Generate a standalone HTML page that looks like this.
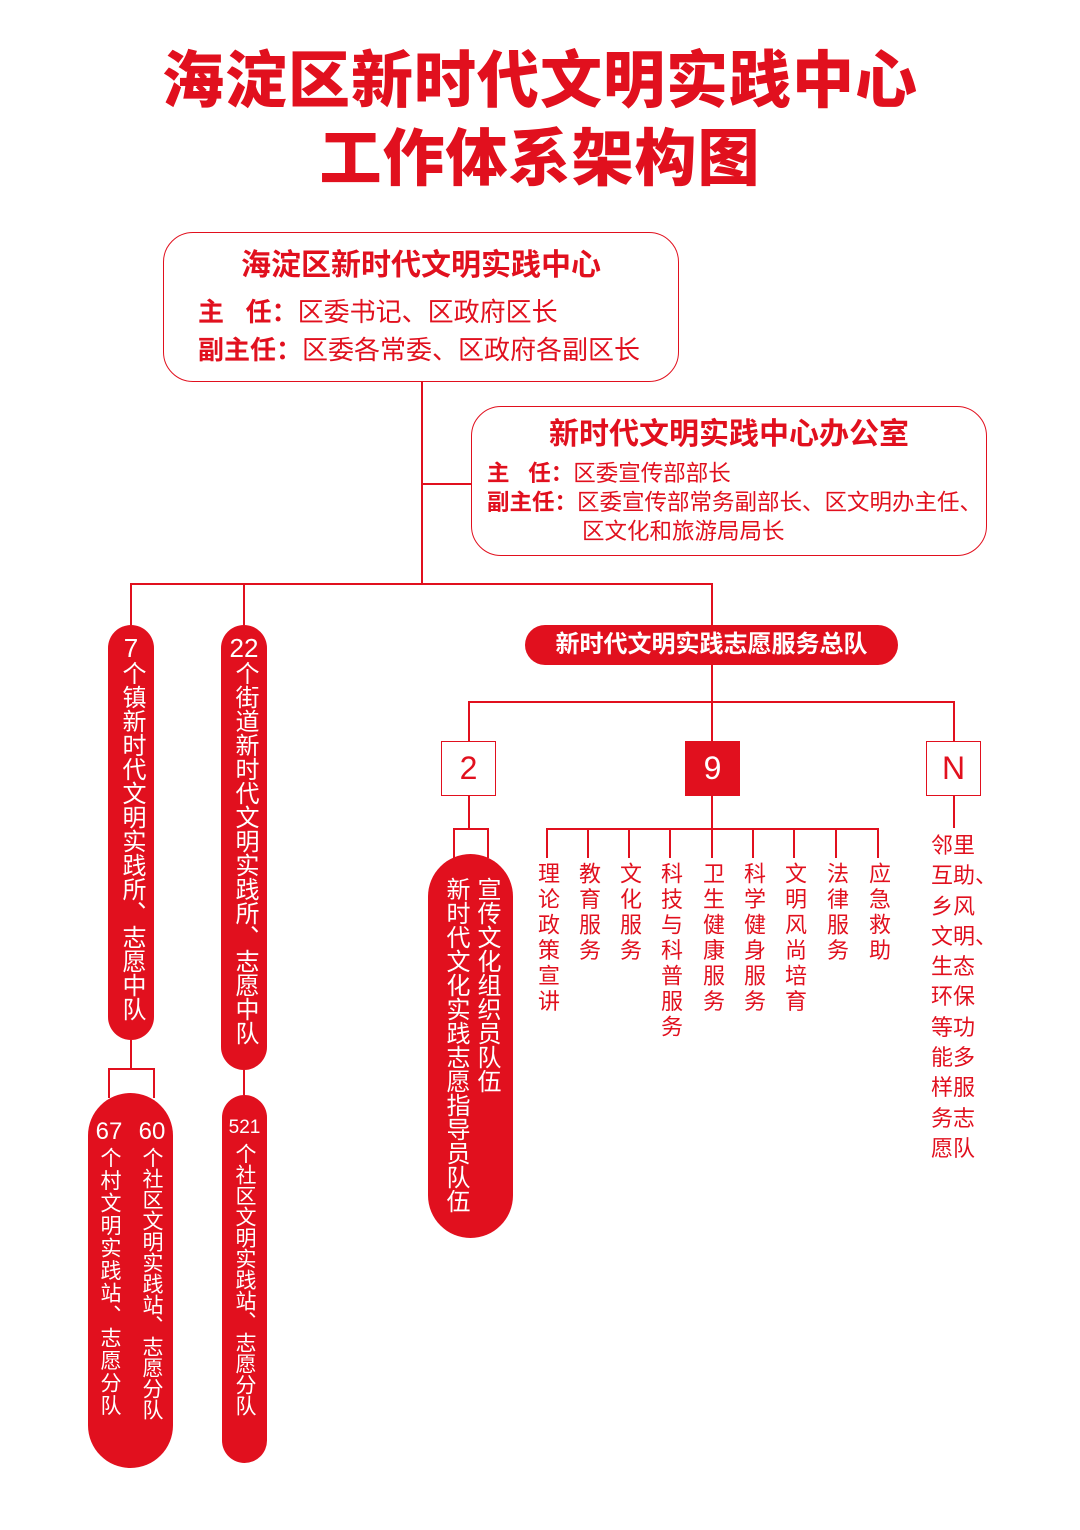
<!DOCTYPE html>
<html><head><meta charset="utf-8">
<style>
body{margin:0;width:1080px;height:1530px;background:#fff;position:relative;overflow:hidden;font-family:"Liberation Sans","Noto Sans CJK SC",sans-serif;color:#e1101e}
.a{position:absolute}
.l{position:absolute;background:#e1101e}
.h{height:1.5px}.v{width:1.5px}
.title{position:absolute;left:0;width:1080px;text-align:center;font-weight:900;font-size:62px;letter-spacing:1px;color:#e1101e;line-height:1}
.box{position:absolute;border:1.5px solid #e1101e;border-radius:30px;box-sizing:border-box;background:#fff}
.pill{position:absolute;background:#e1101e;color:#fff;border-radius:45px;box-sizing:border-box}
.vt{position:absolute;writing-mode:vertical-rl;text-orientation:upright;white-space:nowrap;line-height:1}
.num{position:absolute;text-align:center;color:#fff;line-height:1}
.sq{position:absolute;width:55px;height:55px;border:1.5px solid #e1101e;box-sizing:border-box;text-align:center;line-height:53px;font-size:32px;background:#fff}
</style></head><body>
<div class="title" style="top:51px">海淀区新时代文明实践中心</div>
<div class="title" style="top:129px">工作体系架构图</div>

<div class="box" style="left:163px;top:232px;width:516px;height:150px"></div>
<div class="a" style="left:163px;top:248px;width:516px;text-align:center;font-size:30px;font-weight:bold;line-height:36px">海淀区新时代文明实践中心</div>
<div class="a" style="left:198px;top:296px;font-size:26px;white-space:nowrap;line-height:32px"><b>主&nbsp;&nbsp;&nbsp;任：</b>区委书记、区政府区长</div>
<div class="a" style="left:198px;top:334px;font-size:26px;white-space:nowrap;line-height:32px"><b>副主任：</b>区委各常委、区政府各副区长</div>

<div class="l v" style="left:421px;top:382px;height:202px"></div>
<div class="l h" style="left:421px;top:483px;width:50px"></div>
<div class="box" style="left:471px;top:406px;width:516px;height:150px"></div>
<div class="a" style="left:471px;top:417px;width:516px;text-align:center;font-size:30px;font-weight:bold;line-height:36px">新时代文明实践中心办公室</div>
<div class="a" style="left:487px;top:460px;font-size:22.5px;white-space:nowrap;line-height:27px"><b>主&nbsp;&nbsp;&nbsp;任：</b>区委宣传部部长</div>
<div class="a" style="left:487px;top:489px;font-size:22.5px;white-space:nowrap;line-height:27px"><b>副主任：</b>区委宣传部常务副部长、区文明办主任、</div>
<div class="a" style="left:582px;top:518px;font-size:22.5px;white-space:nowrap;line-height:27px">区文化和旅游局局长</div>

<div class="l h" style="left:131px;top:583px;width:582px"></div>
<div class="l v" style="left:130px;top:583px;height:42px"></div>
<div class="l v" style="left:243px;top:583px;height:42px"></div>
<div class="l v" style="left:711px;top:583px;height:42px"></div>

<!-- pill1 -->
<div class="pill" style="left:108px;top:625px;width:46px;height:415px;border-radius:23px"></div>
<div class="num" style="left:108px;top:635px;width:46px;font-size:26px">7</div>
<div class="vt" style="left:119px;top:661px;font-size:24px;color:#fff">个镇新时代文明实践所、志愿中队</div>
<!-- pill2 -->
<div class="pill" style="left:221px;top:625px;width:46px;height:445px;border-radius:23px"></div>
<div class="num" style="left:221px;top:635px;width:46px;font-size:26px">22</div>
<div class="vt" style="left:232px;top:661px;font-size:24px;color:#fff">个街道新时代文明实践所、志愿中队</div>

<!-- pill total -->
<div class="pill" style="left:525px;top:625px;width:373px;height:40px;border-radius:20px;text-align:center;line-height:40px;font-size:24px;font-weight:bold">新时代文明实践志愿服务总队</div>
<div class="l v" style="left:711px;top:665px;height:77px"></div>
<div class="l h" style="left:469px;top:701px;width:485px"></div>
<div class="l v" style="left:468px;top:701px;height:40px"></div>
<div class="l v" style="left:953px;top:701px;height:40px"></div>
<div class="sq" style="left:441px;top:741px">2</div>
<div class="sq" style="left:685px;top:741px;background:#e1101e;color:#fff">9</div>
<div class="sq" style="left:926px;top:741px">N</div>

<!-- from 2 -->
<div class="l v" style="left:468px;top:796px;height:32px"></div>
<div class="l h" style="left:453px;top:828px;width:35px"></div>
<div class="l v" style="left:453px;top:828px;height:30px"></div>
<div class="l v" style="left:487px;top:828px;height:30px"></div>
<div class="pill" style="left:428px;top:854px;width:85px;height:384px;border-radius:43px"></div>
<div class="vt" style="left:474px;top:877px;font-size:24px;color:#fff">宣传文化组织员队伍</div>
<div class="vt" style="left:443px;top:877px;font-size:24px;color:#fff">新时代文化实践志愿指导员队伍</div>

<!-- from 9 -->
<div class="l v" style="left:711px;top:796px;height:32px"></div>
<div class="l h" style="left:546px;top:828px;width:332px"></div>
<div class="l v" style="left:546px;top:828px;height:30px"></div>
<div class="l v" style="left:587px;top:828px;height:30px"></div>
<div class="l v" style="left:628px;top:828px;height:30px"></div>
<div class="l v" style="left:669px;top:828px;height:30px"></div>
<div class="l v" style="left:711px;top:828px;height:30px"></div>
<div class="l v" style="left:752px;top:828px;height:30px"></div>
<div class="l v" style="left:793px;top:828px;height:30px"></div>
<div class="l v" style="left:835px;top:828px;height:30px"></div>
<div class="l v" style="left:877px;top:828px;height:30px"></div>
<div class="vt" style="left:536px;top:862px;font-size:22px;letter-spacing:3.5px">理论政策宣讲</div>
<div class="vt" style="left:577px;top:862px;font-size:22px;letter-spacing:3.5px">教育服务</div>
<div class="vt" style="left:618px;top:862px;font-size:22px;letter-spacing:3.5px">文化服务</div>
<div class="vt" style="left:659px;top:862px;font-size:22px;letter-spacing:3.5px">科技与科普服务</div>
<div class="vt" style="left:701px;top:862px;font-size:22px;letter-spacing:3.5px">卫生健康服务</div>
<div class="vt" style="left:742px;top:862px;font-size:22px;letter-spacing:3.5px">科学健身服务</div>
<div class="vt" style="left:783px;top:862px;font-size:22px;letter-spacing:3.5px">文明风尚培育</div>
<div class="vt" style="left:825px;top:862px;font-size:22px;letter-spacing:3.5px">法律服务</div>
<div class="vt" style="left:867px;top:862px;font-size:22px;letter-spacing:3.5px">应急救助</div>

<!-- from N -->
<div class="l v" style="left:953px;top:796px;height:32px"></div>
<div class="a" style="left:931px;top:831px;font-size:22px;line-height:30.3px;white-space:nowrap">邻里<br>互助、<br>乡风<br>文明、<br>生态<br>环保<br>等功<br>能多<br>样服<br>务志<br>愿队</div>

<!-- pill1 children -->
<div class="l v" style="left:130px;top:1040px;height:28px"></div>
<div class="l h" style="left:108px;top:1068px;width:46px"></div>
<div class="l v" style="left:108px;top:1068px;height:30px"></div>
<div class="l v" style="left:153px;top:1068px;height:30px"></div>
<div class="pill" style="left:88px;top:1093px;width:85px;height:375px;border-radius:43px"></div>
<div class="num" style="left:92px;top:1120px;width:34px;font-size:24px">67</div>
<div class="num" style="left:135px;top:1120px;width:34px;font-size:24px">60</div>
<div class="vt" style="left:99px;top:1147px;font-size:21px;letter-spacing:1.5px;color:#fff">个村文明实践站、志愿分队</div>
<div class="vt" style="left:141px;top:1147px;font-size:21px;color:#fff">个社区文明实践站、志愿分队</div>

<!-- pill2 child -->
<div class="l v" style="left:243px;top:1070px;height:25px"></div>
<div class="pill" style="left:222px;top:1095px;width:45px;height:368px;border-radius:23px"></div>
<div class="num" style="left:222px;top:1118px;width:45px;font-size:19px">521</div>
<div class="vt" style="left:234px;top:1143px;font-size:21px;color:#fff">个社区文明实践站、志愿分队</div>
</body></html>
